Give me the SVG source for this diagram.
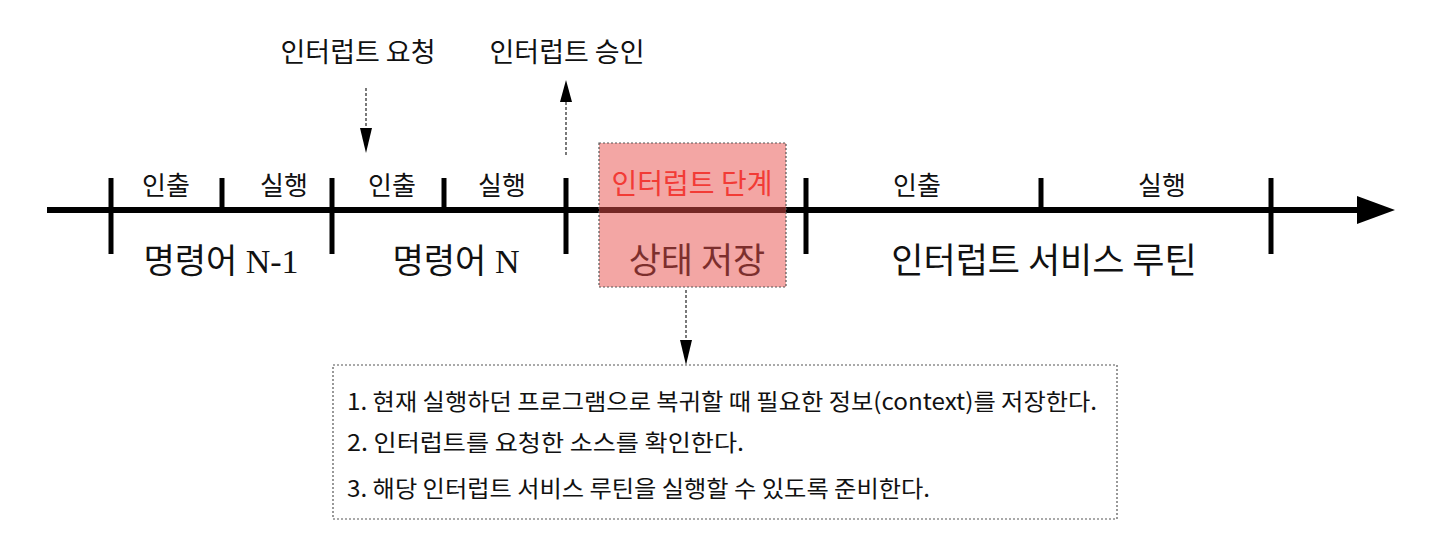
<svg xmlns="http://www.w3.org/2000/svg" width="1442" height="548" viewBox="0 0 1442 548">
<style>
.k{font-family:"Noto Sans CJK KR","Noto Sans",sans-serif;fill:#111}
.s{font-family:"Liberation Serif","Noto Sans CJK KR",serif;fill:#111}
.tick{stroke:#000;stroke-width:5}
.dash{stroke:#333;stroke-width:1.3;stroke-dasharray:3 2;fill:none}
</style>
<rect width="1442" height="548" fill="#fff"/>
<g id="connectors">
<line x1="47" y1="210" x2="1360" y2="210" stroke="#000" stroke-width="6"/>
<polygon points="1357,196 1395,210 1357,224" fill="#000"/>
<line class="dash" x1="366" y1="88" x2="366" y2="130"/>
<polygon points="360,128 372,128 366,153" fill="#000"/>
<line class="dash" x1="566" y1="155" x2="566" y2="100"/>
<polygon points="560,102 572,102 566,80" fill="#000"/>
<line class="dash" x1="686" y1="290" x2="686" y2="342"/>
<polygon points="680,340 692,340 686,365" fill="#000"/>
</g>
<g id="ticks">
<line class="tick" x1="111" y1="178" x2="111" y2="254"/>
<line class="tick" x1="222" y1="178" x2="222" y2="210"/>
<line class="tick" x1="332" y1="178" x2="332" y2="254"/>
<line class="tick" x1="444" y1="178" x2="444" y2="210"/>
<line class="tick" x1="566" y1="178" x2="566" y2="254"/>
<line class="tick" x1="806" y1="178" x2="806" y2="254"/>
<line class="tick" x1="1041" y1="178" x2="1041" y2="210"/>
<line class="tick" x1="1271" y1="178" x2="1271" y2="254"/>
</g>
<g id="labels">
<text class="k" x="358" y="62" font-size="27" text-anchor="middle">인터럽트 요청</text>
<text class="k" x="567" y="62" font-size="27" text-anchor="middle">인터럽트 승인</text>
<text class="k" x="166" y="195" font-size="26" text-anchor="middle">인출</text>
<text class="k" x="284" y="195" font-size="26" text-anchor="middle">실행</text>
<text class="k" x="392" y="195" font-size="26" text-anchor="middle">인출</text>
<text class="k" x="502" y="195" font-size="26" text-anchor="middle">실행</text>
<text class="k" x="917" y="195" font-size="26" text-anchor="middle">인출</text>
<text class="k" x="1162" y="195" font-size="26" text-anchor="middle">실행</text>
<text class="s" x="221" y="273" font-size="34" text-anchor="middle">명령어 N-1</text>
<text class="s" x="456" y="273" font-size="34" text-anchor="middle">명령어 N</text>
<text class="k" x="1044" y="273" font-size="35" text-anchor="middle">인터럽트 서비스 루틴</text>
</g>
<g id="state">
<text class="k" x="697" y="273" font-size="35" text-anchor="middle">상태 저장</text>
<rect x="599" y="143" width="187" height="144" fill="#e84d49" fill-opacity="0.5" stroke="#555" stroke-width="1.2" stroke-dasharray="2 2"/>
<text x="692" y="194" font-size="28" text-anchor="middle" style="font-family:'Noto Sans CJK KR',sans-serif;fill:#f23b36">인터럽트 단계</text>
</g>
<g id="note">
<rect x="333" y="365" width="784" height="154" fill="none" stroke="#555" stroke-width="1.2" stroke-dasharray="2 2"/>
<text class="k" x="347" y="410" font-size="23" textLength="750" lengthAdjust="spacingAndGlyphs">1. 현재 실행하던 프로그램으로 복귀할 때 필요한 정보(context)를 저장한다.</text>
<text class="k" x="347" y="451" font-size="23" textLength="397" lengthAdjust="spacingAndGlyphs">2. 인터럽트를 요청한 소스를 확인한다.</text>
<text class="k" x="347" y="497" font-size="23" textLength="583" lengthAdjust="spacingAndGlyphs">3. 해당 인터럽트 서비스 루틴을 실행할 수 있도록 준비한다.</text>
</g>
</svg>
